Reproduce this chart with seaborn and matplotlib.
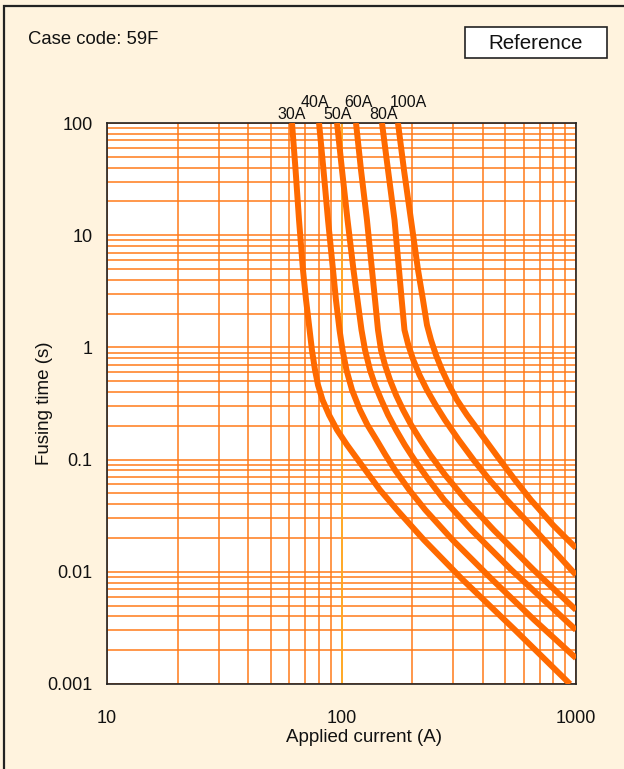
import numpy as np
import pandas as pd
import matplotlib
matplotlib.use("Agg")
import matplotlib.pyplot as plt
from matplotlib.ticker import LogLocator, FixedLocator, FixedFormatter, NullFormatter
from matplotlib.patches import Rectangle
import seaborn as sns

# ---- data ----
ratings = ["30A", "40A", "50A", "60A", "80A", "100A"]

i_30 = [61.5, 63.7, 65.9, 68.5, 70.6, 73.1, 74.8, 77.1, 79.4, 83.0, 88.5, 95.7, 105.6,
        117.6, 131.0, 145.9, 172.5, 224.8, 329.7, 549.5, 942.8]
t_30 = [100, 38.1, 13.66, 4.90, 2.65, 1.43, 0.948, 0.629, 0.462, 0.340, 0.250, 0.184, 0.135,
        0.0992, 0.0729, 0.0536, 0.0356, 0.0192, 0.00845, 0.00303, 0.001]

i_40 = [80.2, 83.8, 87.6, 92.0, 94.7, 98.1, 101.0, 105.0, 110.9, 119.9, 129.1, 141.0, 154.0,
        169.1, 194.6, 227.7, 297.8, 441.0, 664.0, 1000]
t_40 = [100, 38.1, 13.66, 4.90, 2.65, 1.43, 0.948, 0.629, 0.417, 0.277, 0.203, 0.150, 0.110,
        0.0808, 0.0536, 0.0356, 0.0192, 0.00845, 0.00372, 0.00170]

i_50 = [95.7, 100.5, 106.1, 112.5, 117.0, 121.7, 126.0, 132.3, 139.0, 147.8, 158.0, 170.8,
        186.2, 204.8, 235.6, 274.2, 358.4, 530.8, 1000]
t_50 = [100, 38.1, 13.66, 4.90, 2.65, 1.43, 0.948, 0.629, 0.462, 0.340, 0.250, 0.184,
        0.135, 0.0992, 0.0658, 0.0436, 0.0236, 0.01038, 0.00303]

i_60 = [115.3, 121.1, 128.4, 134.9, 139.0, 143.1, 147.4, 153.3, 161.0, 170.8, 183.1, 198.3,
        216.8, 239.1, 276.6, 339.3, 445.7, 660.1, 1000]
t_60 = [100, 38.1, 13.66, 4.90, 2.65, 1.43, 0.948, 0.697, 0.512, 0.3765, 0.277, 0.203,
        0.150, 0.110, 0.0729, 0.0436, 0.0236, 0.01038, 0.00457]

i_80 = [148.8, 157.9, 168.3, 175.9, 180.6, 185.6, 192.7, 202.4, 215.1, 231.5, 251.9, 276.3,
        316.4, 365.9, 428.1, 507.8, 668.7, 1000]
t_80 = [100, 38.1, 13.66, 4.90, 2.65, 1.43, 1.05, 0.772, 0.5675, 0.417, 0.3066, 0.2254,
        0.1495, 0.0992, 0.0658, 0.0436, 0.0236, 0.00937]

i_100 = [174.1, 184.7, 197.9, 212.0, 222.6, 231.5, 240.8, 252.9, 268.3, 287.3, 310.9, 342.9,
         382.1, 425.6, 474.2, 549.5, 642.9, 797.9, 1000]
t_100 = [100, 38.1, 13.66, 4.90, 2.65, 1.584, 1.164, 0.8555, 0.6288, 0.4624, 0.3397, 0.2497,
         0.1836, 0.1349, 0.0992, 0.0658, 0.0436, 0.0261, 0.0163]

x_ticks = [10, 100, 1000]
x_tick_labels = ["10", "100", "1000"]
y_ticks = [0.001, 0.01, 0.1, 1, 10, 100]
y_tick_labels = ["0.001", "0.01", "0.1", "1", "10", "100"]

currents = [i_30, i_40, i_50, i_60, i_80, i_100]
times = [t_30, t_40, t_50, t_60, t_80, t_100]

frames = []
for r, ii, tt in zip(ratings, currents, times):
    frames.append(pd.DataFrame({"current": ii, "time": tt, "rating": r}))
df = pd.concat(frames, ignore_index=True)

# ---- style ----
sns.set_theme(style="white")
plt.rcParams["font.family"] = ["Liberation Sans", "DejaVu Sans"]

BG = "#FFF3DE"
GRID = "#FF7A1A"
CURVE = "#FF6A00"
TXT = "#111111"

fig = plt.figure(figsize=(6.24, 7.69), dpi=100, facecolor=BG)
W, H = 624, 769
ax = fig.add_axes([107 / W, 1 - 684 / H, (576 - 107) / W, (684 - 123) / H])
ax.set_facecolor("white")

ax.set_xscale("log")
ax.set_yscale("log")
ax.set_xlim(10, 1000)
ax.set_ylim(0.001, 100)

# grid
ax.xaxis.set_minor_locator(LogLocator(base=10, subs=np.arange(2, 10)))
ax.yaxis.set_minor_locator(LogLocator(base=10, subs=np.arange(2, 10)))
ax.xaxis.set_minor_formatter(NullFormatter())
ax.yaxis.set_minor_formatter(NullFormatter())
ax.grid(True, which="both", color=GRID, lw=1.1, zorder=0)
ax.set_axisbelow(True)
ax.axvline(100, color="#FFB020", lw=1.1, zorder=1)

sns.lineplot(data=df, x="current", y="time", hue="rating", units="rating",
             estimator=None, sort=False, palette=[CURVE] * len(ratings),
             legend=False, lw=4.3, ax=ax, zorder=3)
for ln in ax.get_lines():
    ln.set_solid_joinstyle("round")
    ln.set_solid_capstyle("butt")

ax.xaxis.set_major_locator(FixedLocator(x_ticks))
ax.xaxis.set_major_formatter(FixedFormatter(x_tick_labels))
ax.yaxis.set_major_locator(FixedLocator(y_ticks))
ax.yaxis.set_major_formatter(FixedFormatter(y_tick_labels))
ax.tick_params(axis="both", which="both", length=0, labelsize=13, colors=TXT)
ax.tick_params(axis="x", pad=18.5)
ax.tick_params(axis="y", pad=10.5)

for s in ax.spines.values():
    s.set_visible(True)
    s.set_color("#222222")
    s.set_linewidth(1.2)

ax.set_xlabel("Applied current (A)", fontsize=13.5, color=TXT)
ax.set_ylabel("Fusing time (s)", fontsize=13.5, color=TXT)
ax.xaxis.set_label_coords((364.5 - 107) / 469, -(729 - 684) / 561)
ax.yaxis.set_label_coords(-(107 - 53) / 469, 0.5)

# curve labels
label_dx = [0, -4, 1, 2, 2, 10]           # px offsets of label centre from curve top
label_row = [0, 1, 0, 1, 0, 1]
for r, ii, dx, row in zip(ratings, currents, label_dx, label_row):
    dy_px = 4 if row == 0 else 16
    ax.annotate(r, xy=(ii[0], 100), xytext=(dx * 0.72, dy_px * 0.72),
                textcoords="offset points", ha="center", va="baseline",
                fontsize=11.5, color=TXT, annotation_clip=False)

# header texts
fig.text(28 / W, 1 - 44 / H, "Case code: 59F", fontsize=13.3, ha="left",
         va="baseline", color=TXT)
fig.patches.append(Rectangle((465 / W, 1 - 58 / H), (607 - 465) / W, (58 - 27) / H,
                             transform=fig.transFigure, facecolor="white",
                             edgecolor="#222222", lw=1.2))
fig.text(536 / W, 1 - 49 / H, "Reference", fontsize=14.8, ha="center",
         va="baseline", color=TXT)

# outer frame (left and top edges visible)
fig.patches.append(Rectangle((4 / W, -0.05), 1.2, 1.05 - 6 / H,
                             transform=fig.transFigure, facecolor="none",
                             edgecolor="#222222", lw=1.6))

fig.savefig("out.png", dpi=100, facecolor=BG)
